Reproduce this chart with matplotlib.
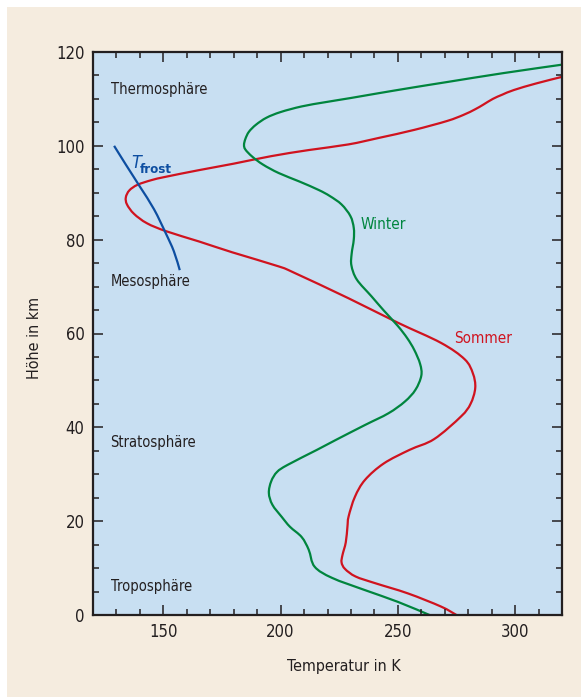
#
# Temperaturprofile der Atmosphäre (Sommer / Winter) mit Frostpunkt
#
import numpy as np
import matplotlib
matplotlib.use('Agg')
import matplotlib.pyplot as plt
from matplotlib.patches import Rectangle, PathPatch
from matplotlib.path import Path
from matplotlib.ticker import MultipleLocator

# Sommer: Temperatur in K, Höhe in km
sommer_T = [275, 268.4, 254.3, 240.2, 232, 227.5, 226, 226.4, 227.8, 228.5, 229, 231.7,
            236, 244, 255, 265.5, 276.9, 281, 283, 282, 278.5, 268.4, 250, 229, 206, 199.2,
            179.4, 165.3, 151.2, 143, 137.5, 134.5, 134, 135.5, 139, 145, 151, 165, 180,
            196, 212, 228.9, 242, 257, 271, 278, 283, 286.5, 290.5, 294.5, 299.5, 309, 320]
sommer_z = [0, 1.8, 4.6, 6.8, 8.2, 9.8, 11.2, 12.8, 15.5, 18.8, 21, 25.2,
            28.8, 32.3, 35.2, 37.5, 42.3, 45, 48.4, 51.5, 54.5, 58, 62.3, 67.5, 72.9, 74.3,
            77.3, 79.6, 81.8, 83.5, 85.5, 87.5, 89, 90.5, 91.7, 92.7, 93.4, 94.8, 96.2,
            97.8, 99.1, 100.3, 101.7, 103.4, 105.3, 106.6, 107.8, 108.8, 110, 110.9, 111.9,
            113.3, 114.7]

# Winter
winter_T = [263.5, 250, 236, 222, 214.5, 212, 209, 204, 200.5, 196.5, 195, 196, 198.5,
            203, 215.5, 223.5, 236, 246, 253, 257.5, 260, 259.5, 257, 254, 250, 244,
            238.8, 232.5, 230.2, 230.3, 231.2, 231.2, 229.8, 226, 221, 216.2, 208, 199.2,
            192.5, 187.9, 185, 184.4, 185, 186.5, 189.5, 194, 200, 209, 219, 230, 241.6,
            256, 271, 295, 320]
winter_z = [0, 2.8, 5.3, 7.9, 10.3, 13.9, 16.6, 18.8, 20.9, 23.5, 26, 28.5, 30.5,
            32, 35.2, 37.3, 40.5, 43, 45.5, 48, 51, 53.5, 56.5, 59, 61.6, 64.9,
            67.9, 71.5, 74.5, 77, 80, 82.5, 85, 87.5, 89.3, 90.6, 92.4, 94.2,
            96, 97.7, 99.2, 100.2, 101.5, 103, 104.5, 106, 107.2, 108.4, 109.3, 110.2, 111.2,
            112.4, 113.6, 115.5, 117.3]

# Frostpunkt
frost_T = [129, 134, 140, 146, 151, 154.5, 157]
frost_z = [100, 96, 91.3, 86.5, 81.4, 77.5, 73.5]

# Schichten
schichten = ["Thermosphäre", "Mesosphäre", "Stratosphäre", "Troposphäre"]
schichten_z = [112, 71, 36.7, 6]

c_beige = '#f5ecdf'
c_blau_bg = '#c8dff2'
c_rot = '#d0131f'
c_gruen = '#00853e'
c_blau = '#0d4ea1'
c_text = '#231f20'

plt.rcParams['font.family'] = ['DejaVu Sans']
plt.rcParams['font.stretch'] = 'condensed'


def glatte_linie(ax, xs, ys, farbe):
    p = np.column_stack([xs, ys]).astype(float)
    p = np.vstack([p[0], p, p[-1]])
    verts = [p[1]]
    codes = [Path.MOVETO]
    for i in range(1, len(p) - 2):
        c1 = p[i] + (p[i + 1] - p[i - 1]) / 6
        c2 = p[i + 1] - (p[i + 2] - p[i]) / 6
        verts += [c1, c2, p[i + 1]]
        codes += [Path.CURVE4] * 3
    ax.add_patch(PathPatch(Path(verts, codes), fill=False, edgecolor=farbe, lw=1.6,
                           capstyle='butt'))


fig = plt.figure(figsize=(5.81, 6.97), dpi=100, facecolor='white')
fig.patches.append(Rectangle((7 / 581, 0), 1, 1 - 7 / 697, transform=fig.transFigure,
                             facecolor=c_beige, edgecolor='none', zorder=-10))

ax = fig.add_axes([93 / 581, 1 - 615 / 697, (562 - 93) / 581, (615 - 52) / 697])
ax.set_facecolor(c_blau_bg)

glatte_linie(ax, sommer_T, sommer_z, c_rot)
glatte_linie(ax, winter_T, winter_z, c_gruen)
glatte_linie(ax, frost_T, frost_z, c_blau)

ax.set_xlim(120, 320)
ax.set_ylim(0, 120)
ax.xaxis.set_major_locator(MultipleLocator(50))
ax.xaxis.set_minor_locator(MultipleLocator(10))
ax.yaxis.set_major_locator(MultipleLocator(20))
ax.yaxis.set_minor_locator(MultipleLocator(5))
ax.tick_params(which='both', direction='in', top=True, right=True, color=c_text,
               width=1.1, labelsize=12, labelcolor=c_text)
ax.tick_params(which='major', length=7, pad=6)
ax.tick_params(which='minor', length=4)
for s in ax.spines.values():
    s.set_linewidth(1.6)
    s.set_color(c_text)

ax.set_xlabel("Temperatur in K", fontsize=11.5, color=c_text, labelpad=13)
ax.xaxis.label.set_x(0.534)
ax.set_ylabel("Höhe in km", fontsize=11.5, color=c_text, labelpad=10.5)
ax.yaxis.label.set_y(0.492)

# Beschriftungen
for name, z in zip(schichten, schichten_z):
    ax.text(127.5, z, name, fontsize=10.5, color=c_text, va='center', ha='left')
ax.text(234, 83.2, "Winter", fontsize=11, color=c_gruen, va='center', ha='left')
ax.text(274, 59, "Sommer", fontsize=11, color=c_rot, va='center', ha='left')
ax.text(136.3, 96.3, "T", fontsize=13, fontstyle='italic', color=c_blau, va='center', ha='left')
ax.text(139.8, 95.0, "frost", fontsize=9.5, fontweight='bold', color=c_blau, va='center', ha='left')

plt.savefig('out.png', dpi=100, facecolor=fig.get_facecolor())
plt.close('all')
